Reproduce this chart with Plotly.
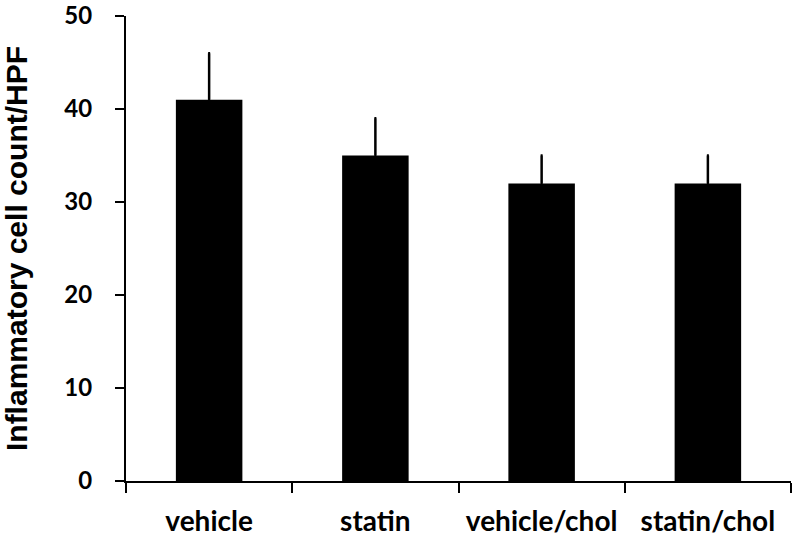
import plotly.graph_objects as go

categories = ["vehicle", "statin", "vehicle/chol", "statin/chol"]
values = [41, 35, 32, 32]
errors_up = [5, 4, 3, 3]
y_ticks = [0, 10, 20, 30, 40, 50]

fig = go.Figure()
fig.add_trace(go.Bar(
    x=categories, y=values, width=0.4,
    marker=dict(color="black", line=dict(width=0)),
    error_y=dict(type="data", symmetric=False, array=errors_up,
                 arrayminus=[0] * len(values), color="black",
                 thickness=2.5, width=1),
))

x_font = dict(family="Lato, Carlito, sans-serif", size=28, color="black", weight="bold")
y_font = dict(family="Lato, Carlito, sans-serif", size=24, color="black", weight="bold")
fig.update_layout(
    width=800, height=537,
    margin=dict(l=126, r=9, t=16, b=56, autoexpand=False),
    plot_bgcolor="white", paper_bgcolor="white",
    showlegend=False, bargap=0.6,
    xaxis=dict(
        type="category", range=[-0.5, 3.5], automargin=False,
        showline=True, linecolor="black", linewidth=2,
        ticks="outside", tickson="boundaries", ticklen=10, tickwidth=2,
        tickcolor="black", tickfont=x_font, showgrid=False,
        ticklabelstandoff=14, ticklabeloverflow="allow",
    ),
    yaxis=dict(
        range=[0, 50], tickvals=y_ticks, automargin=False,
        showline=True, linecolor="black", linewidth=2,
        ticks="outside", ticklen=9, tickwidth=2, tickcolor="black",
        tickfont=y_font, showgrid=False, zeroline=False,
        ticklabelstandoff=18, ticklabeloverflow="allow",
        title=dict(text="Inflammatory cell count/HPF",
                   font=dict(family="Liberation Sans, Arial, sans-serif",
                             size=30, color="black", weight="bold"),
                   standoff=29),
    ),
)
fig.write_html("out.html", config={"displayModeBar": False},
               post_script="document.body.style.margin='0';")
